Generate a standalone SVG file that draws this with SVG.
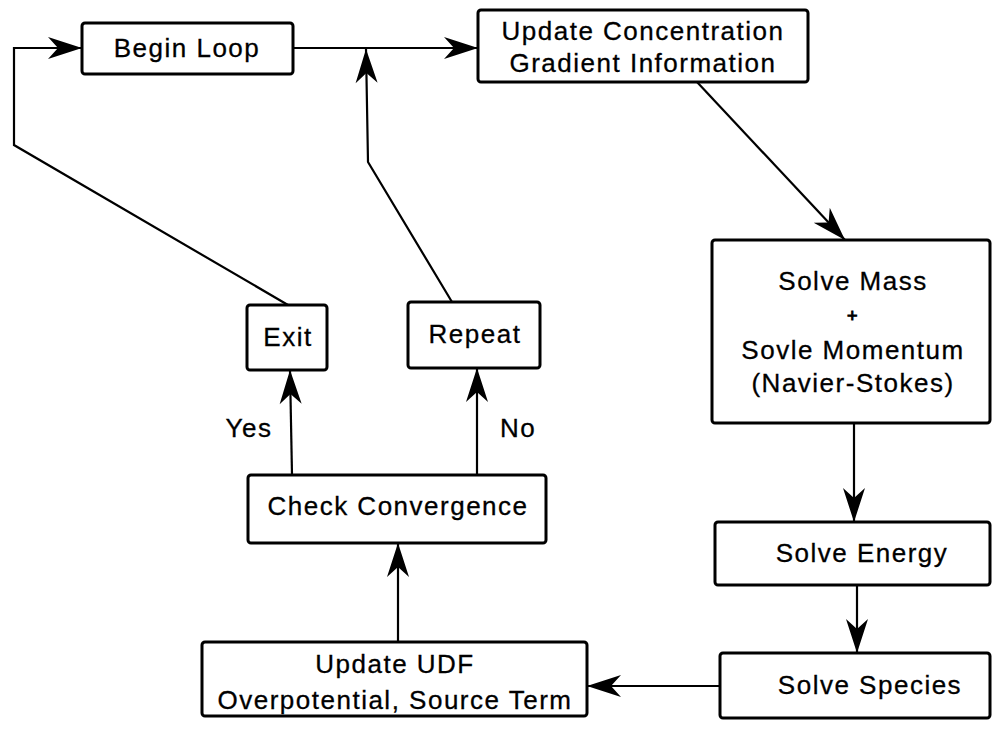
<svg xmlns="http://www.w3.org/2000/svg" width="993" height="731" viewBox="0 0 993 731">
<style>
.box{fill:#fff;stroke:#000;stroke-width:3}
.t{font-family:"Liberation Sans",Arial,sans-serif;font-size:26px;letter-spacing:1.5px;text-anchor:middle;dominant-baseline:central;fill:#000;stroke:#000;stroke-width:0.3}
.c{fill:none;stroke:#000;stroke-width:2.2;marker-end:url(#arr)}
</style>
<defs>
<marker id="arr" viewBox="-36 -13 37 26" refX="0" refY="0" markerWidth="37" markerHeight="26" markerUnits="userSpaceOnUse" orient="auto">
<path d="M0,0 L-34,-11 L-24,0 L-34,11 Z" fill="#000"/>
</marker>
</defs>
<rect width="993" height="731" fill="#fff"/>
<g id="connectors">
<path class="c" d="M288,305 L14,145 L14,48 L82,48"/>
<path class="c" d="M452,302 L368,162 L366,49"/>
<path class="c" d="M293,48 L478,48"/>
<path class="c" d="M697,82 L845,240"/>
<path class="c" d="M854,423 L854,522"/>
<path class="c" d="M857,585 L857,653"/>
<path class="c" d="M720,686 L587,686"/>
<path class="c" d="M398,642 L398,543"/>
<path class="c" d="M292,475 L290,370"/>
<path class="c" d="M477,475 L477,368"/>
</g>
<g id="begin-loop"><rect class="box" x="82" y="23" width="211" height="51" rx="3"/><text class="t" x="187" y="48">Begin Loop</text></g>
<g id="update-concentration"><rect class="box" x="478" y="10" width="330" height="72" rx="3"/><text class="t" x="643" y="31">Update Concentration</text><text class="t" x="643" y="63">Gradient Information</text></g>
<g id="solve-mass"><rect class="box" x="712" y="240" width="278" height="183" rx="3"/><text class="t" x="853" y="281">Solve Mass</text><text class="t" x="853" y="316" style="font-size:18px;stroke-width:1">+</text><text class="t" x="853" y="350">Sovle Momentum</text><text class="t" x="853" y="383">(Navier-Stokes)</text></g>
<g id="solve-energy"><rect class="box" x="715" y="522" width="275" height="63" rx="3"/><text class="t" x="862" y="553">Solve Energy</text></g>
<g id="solve-species"><rect class="box" x="720" y="653" width="270" height="65" rx="3"/><text class="t" x="870" y="685">Solve Species</text></g>
<g id="update-udf"><rect class="box" x="202" y="642" width="385" height="74" rx="3"/><text class="t" x="395" y="664">Update UDF</text><text class="t" x="395" y="700">Overpotential, Source Term</text></g>
<g id="check-convergence"><rect class="box" x="248" y="475" width="298" height="68" rx="3"/><text class="t" x="398" y="506">Check Convergence</text></g>
<g id="exit"><rect class="box" x="247" y="305" width="80" height="65" rx="3"/><text class="t" x="288" y="337">Exit</text></g>
<g id="repeat"><rect class="box" x="408" y="302" width="132" height="66" rx="3"/><text class="t" x="475" y="334">Repeat</text></g>
<g id="labels"><text class="t" x="249" y="428">Yes</text><text class="t" x="518" y="428">No</text></g>
</svg>
